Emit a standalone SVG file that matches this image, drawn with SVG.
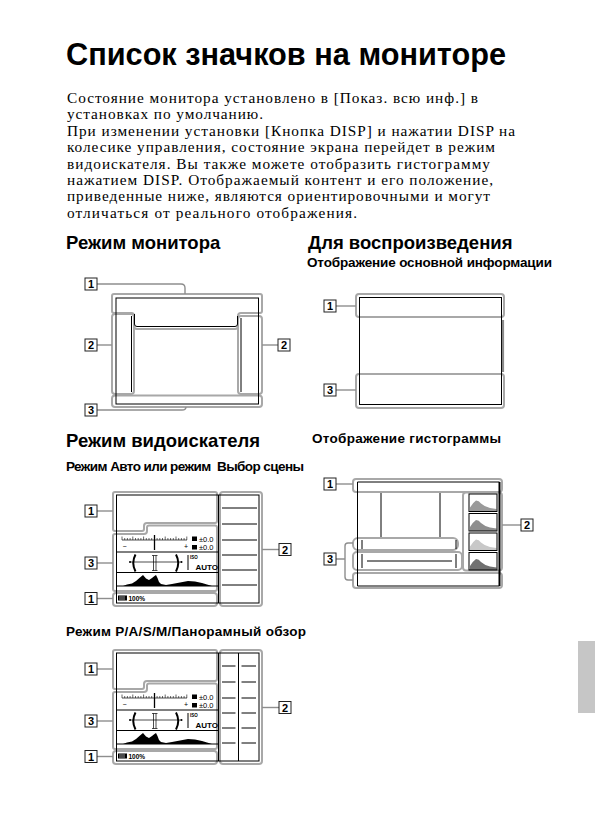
<svg xmlns="http://www.w3.org/2000/svg" width="595" height="839" viewBox="0 0 595 839">
<style>
.g{fill:none;stroke:#a8a8a8;stroke-width:2}
.k{fill:none;stroke:#000;stroke-width:1}
.t{fill:none;stroke:#000;stroke-width:0.7}
.c{fill:none;stroke:#8e8e8e;stroke-width:1.4}
.lb rect{fill:#fff;stroke:#222;stroke-width:1}
.lb text{font-family:"Liberation Sans",Arial,sans-serif;font-weight:bold;font-size:11px;text-anchor:middle;fill:#000}
.h1{font-family:"Liberation Sans",Arial,sans-serif;font-weight:bold;font-size:30.7px}
.h2{font-family:"Liberation Sans",Arial,sans-serif;font-weight:bold;font-size:18.5px}
.h3{font-family:"Liberation Sans",Arial,sans-serif;font-weight:bold;font-size:13.5px}
.body{font-family:"Liberation Serif","Times New Roman",serif;font-size:15.3px}
.s{font-family:"Liberation Sans",Arial,sans-serif}
</style>
<defs>
<g id="vf3">
<path class="t" d="M122,540H187"/>
<path d="M122,536.5V540M124.7,538V540M127.4,538V540M130.1,538V540M132.8,536.5V540M135.5,538V540M138.2,538V540M140.9,538V540M143.6,536.5V540M146.3,538V540M149,538V540M151.7,538V540M157.1,538V540M159.8,538V540M162.5,538V540M165.2,536.5V540M167.9,538V540M170.6,538V540M173.3,538V540M176,536.5V540M178.7,538V540M181.4,538V540M184.1,538V540M186.8,536.5V540" stroke="#000" stroke-width="0.6" fill="none"/>
<path d="M154.5,535V550" stroke="#000" stroke-width="1.3"/>
<text class="s" x="122.5" y="549" font-size="7">−</text>
<text class="s" x="184" y="549" font-size="7">+</text>
<rect x="192" y="536.5" width="5" height="4.5" fill="#000"/>
<rect x="192" y="545" width="5" height="4.5" fill="#000"/>
<text class="s" x="199" y="541.5" font-size="7.5">±0.0</text>
<text class="s" x="199" y="550" font-size="7.5">±0.0</text>
<path class="k" d="M116.5,552H218.5M116.5,572.5H218.5M116.5,586H218.5"/>
<path class="t" d="M130,562H181.5"/>
<circle cx="130" cy="562" r="1" fill="#000"/>
<circle cx="181.5" cy="562" r="1" fill="#000"/>
<path d="M135.5,554.5Q131,563 135.5,571.5M176,554.5Q180.5,563 176,571.5" stroke="#000" stroke-width="2" fill="none"/>
<path class="t" d="M153.5,555.5V570.5M156,555.5V570.5M152,555.5H157.5M152,570.5H157.5"/>
<path class="k" d="M188,555V570"/>
<text class="s" x="190" y="558.5" font-size="4.5" font-weight="bold">ISO</text>
<text class="s" x="195.5" y="569.5" font-size="8" font-weight="bold">AUTO</text>
<path d="M123,586L127,584.5L132,583.5L136,581L140,577.5L143,575L146,578.5L149,580L152,578L154.5,576L156,575L157.5,578L159,582L161,584L166,585L172,584L180,582.5L188,581L195,581.5L202,583L207,584.5L212,586Z" fill="#000"/>
<rect x="118" y="595.5" width="9" height="5" fill="#000"/>
<path d="M120,596V600M122,596V600M124,596V600" stroke="#fff" stroke-width="0.6"/>
<text class="s" x="128.5" y="601.3" font-size="6.5" font-weight="bold">100%</text>
</g>
<g id="vfframe">
<path class="g" d="M115,492H215Q217,492 217,494V521Q217,523 215,523H147Q144,523 144,526V529Q144,531 142,531H115Q113,531 113,529V494Q113,492 115,492Z"/>
<path class="g" d="M115,534H144Q147,534 147,531V527.5Q147,525.5 149,525.5H215Q217,525.5 217,527.5V589Q217,591 215,591H115Q113,591 113,589V536Q113,534 115,534Z"/>
<rect class="g" x="113" y="593" width="104" height="13" rx="3"/>
<rect class="g" x="220" y="492" width="42" height="114" rx="3"/>
<rect class="k" x="116.5" y="495" width="142.5" height="108"/>
<path class="k" d="M218.5,495V603"/>
</g>
</defs>

<g id="text">
<text class="h1" x="66" y="65">Список значков на мониторе</text>
<text class="body" x="67" y="103" textLength="411">Состояние монитора установлено в [Показ. всю инф.] в</text>
<text class="body" x="67" y="119.4" textLength="196">установках по умолчанию.</text>
<text class="body" x="67" y="135.8" textLength="448">При изменении установки [Кнопка DISP] и нажатии DISP на</text>
<text class="body" x="67" y="152.2" textLength="428">колесике управления, состояние экрана перейдет в режим</text>
<text class="body" x="67" y="168.6" textLength="423">видоискателя. Вы также можете отобразить гистограмму</text>
<text class="body" x="67" y="185" textLength="426">нажатием DISP. Отображаемый контент и его положение,</text>
<text class="body" x="67" y="201.4" textLength="423">приведенные ниже, являются ориентировочными и могут</text>
<text class="body" x="67" y="217.8" textLength="290">отличаться от реального отображения.</text>
<text class="h2" x="66" y="249">Режим монитора</text>
<text class="h2" x="308" y="249">Для воспроизведения</text>
<text class="h3" x="307" y="267" textLength="245">Отображение основной информации</text>
<text class="h2" x="66" y="446.5">Режим видоискателя</text>
<text class="h3" x="312" y="443" textLength="189">Отображение гистограммы</text>
<text class="h3" x="66" y="471" style="white-space:pre" textLength="238">Режим Авто или режим  Выбор сцены</text>
<text class="h3" x="66" y="636" textLength="240">Режим P/A/S/M/Панорамный обзор</text>
</g>

<rect id="tab" x="578" y="641" width="17" height="72" fill="#c6c6c6"/>

<g id="monitor">
<path class="g" d="M114,294H260Q262,294 262,296V311Q262,313 260,313H241Q238,313 238,316V326Q238,329 235,329H137Q134,329 134,326V315.5Q134,313 131.5,313H114Q112,313 112,311V296Q112,294 114,294Z"/>
<rect class="g" x="112" y="314" width="22" height="80" rx="3"/>
<rect class="g" x="238" y="316" width="24" height="78" rx="3"/>
<rect class="g" x="112" y="395.5" width="150" height="11.5" rx="3"/>
<rect class="k" x="116" y="298" width="142.5" height="106"/>
<path class="k" d="M131.5,316V392M134.5,314V324Q134.5,326.5 137,326.5H235Q237.5,326.5 237.5,324V316M241,318V392"/>
</g>

<g id="playback">
<rect class="g" x="356" y="294" width="148" height="23" rx="3"/>
<rect class="g" x="356" y="374" width="148" height="34" rx="3"/>
<rect class="k" x="359.5" y="297.5" width="142" height="107"/>
<path d="M503,320V372" stroke="#8a8a8a" stroke-width="2.2"/>
</g>

<g id="histogram">
<rect class="g" x="353" y="479" width="149" height="13" rx="3"/>
<rect class="g" x="463" y="492.5" width="39" height="78" rx="3"/>
<rect class="g" x="353" y="538" width="105" height="12" rx="5"/>
<rect class="g" x="353" y="552" width="109" height="18" rx="4"/>
<rect class="g" x="353" y="573" width="149" height="15" rx="3"/>
<path class="k" d="M357.5,586V482H499.5M357.5,586H499.5"/>
<path d="M499.5,482V586" stroke="#000" stroke-width="2"/>
<path class="k" d="M381,493V537M440,493V537M362,540V549M456,540V549M362,554V568M456,554V568M367,561H452"/>
<path d="M470,511.5L470,507.5Q473,502.5 476,500.5Q479,500.5 481,503.5Q485,507 490,508L496.5,509L496.5,511.5Z" fill="#9a9a9a"/>
<path d="M470,531L470,527Q473,522 476,520Q479,520 481,523Q485,526.5 490,527.5L496.5,528.5L496.5,531Z" fill="#8e8e8e"/>
<path d="M470,550.5L470,546.5Q473,541.5 476,539.5Q479,539.5 481,542.5Q485,546 490,547L496.5,548L496.5,550.5Z" fill="#c8c8c8"/>
<path d="M470,570L470,566Q473,561 476,559Q479,559 481,562Q485,565.5 490,566.5L496.5,567.5L496.5,570Z" fill="#707070"/>
<rect class="k" x="469" y="494" width="28" height="17.5"/>
<rect class="k" x="469" y="513.5" width="28" height="17.5"/>
<rect class="k" x="469" y="533" width="28" height="17.5"/>
<rect class="k" x="469" y="552.5" width="28" height="17.5"/>
</g>

<g id="vf-auto">
<use href="#vfframe"/>
<use href="#vf3"/>
<path class="k" d="M222,508H257M222,524H257M222,540H257M222,555H257M222,570H257M222,585H257"/>
</g>

<g id="vf-pasm" transform="translate(0,158)">
<use href="#vfframe"/>
<use href="#vf3"/>
<path class="k" d="M238.5,495V603M222,508H235.5M222,524H235.5M222,540H235.5M222,555H235.5M222,570H235.5M222,585H235.5M241.5,508H256M241.5,524H256M241.5,540H256M241.5,555H256M241.5,570H256M241.5,585H256"/>
</g>

<g id="connectors">
<path class="c" d="M97,284H181Q185,284 185,288V294"/>
<path class="c" d="M97,345H112"/>
<path class="c" d="M262,345H278"/>
<path class="c" d="M97,410H182Q186,410 186,407"/>
<path class="c" d="M336,306H356"/>
<path class="c" d="M336,390H356"/>
<path class="c" d="M336,484H353"/>
<path class="c" d="M502,525H521"/>
<path class="c" d="M336,559H345M353,543H348Q345,543 345,546V577Q345,580 348,580H353"/>
<path class="c" d="M97,511H113"/>
<path class="c" d="M97,563H113"/>
<path class="c" d="M97,598.5H113"/>
<path class="c" d="M262,549.5H279"/>
<path class="c" d="M97,669H113"/>
<path class="c" d="M97,721H113"/>
<path class="c" d="M97,756.5H113"/>
<path class="c" d="M262,707.5H279"/>
</g>

<g id="m-l1" class="lb"><rect x="85" y="278" width="12" height="12"/><text x="91" y="288">1</text></g>
<g id="m-l2a" class="lb"><rect x="85" y="339" width="12" height="12"/><text x="91" y="349">2</text></g>
<g id="m-l2b" class="lb"><rect x="278" y="339" width="12" height="12"/><text x="284" y="349">2</text></g>
<g id="m-l3" class="lb"><rect x="85" y="404" width="12" height="12"/><text x="91" y="414">3</text></g>
<g id="p-l1" class="lb"><rect x="324" y="300" width="12" height="12"/><text x="330" y="310">1</text></g>
<g id="p-l3" class="lb"><rect x="324" y="384" width="12" height="12"/><text x="330" y="394">3</text></g>
<g id="h-l1" class="lb"><rect x="324" y="478" width="12" height="12"/><text x="330" y="488">1</text></g>
<g id="h-l2" class="lb"><rect x="521" y="519" width="12" height="12"/><text x="527" y="529">2</text></g>
<g id="h-l3" class="lb"><rect x="324" y="553" width="12" height="12"/><text x="330" y="563">3</text></g>
<g id="a-l1" class="lb"><rect x="85" y="505" width="12" height="12"/><text x="91" y="515">1</text></g>
<g id="a-l3" class="lb"><rect x="85" y="557" width="12" height="12"/><text x="91" y="567">3</text></g>
<g id="a-l1b" class="lb"><rect x="85" y="592.5" width="12" height="12"/><text x="91" y="602.5">1</text></g>
<g id="a-l2" class="lb"><rect x="279" y="543.5" width="12" height="12"/><text x="285" y="553.5">2</text></g>
<g id="s-l1" class="lb"><rect x="85" y="663" width="12" height="12"/><text x="91" y="673">1</text></g>
<g id="s-l3" class="lb"><rect x="85" y="715" width="12" height="12"/><text x="91" y="725">3</text></g>
<g id="s-l1b" class="lb"><rect x="85" y="750.5" width="12" height="12"/><text x="91" y="760.5">1</text></g>
<g id="s-l2" class="lb"><rect x="279" y="701.5" width="12" height="12"/><text x="285" y="711.5">2</text></g>
</svg>
